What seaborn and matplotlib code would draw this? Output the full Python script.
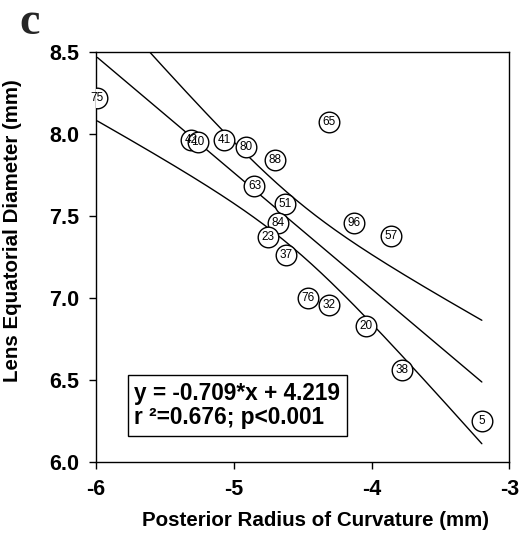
import numpy as np
import pandas as pd
import matplotlib
matplotlib.use("Agg")
import matplotlib.pyplot as plt
import seaborn as sns

# ---- data ----
labels = ["75", "42", "10", "41", "80", "88", "63", "51", "84", "23",
          "37", "65", "96", "57", "76", "32", "20", "38", "5"]
radius = [-5.99, -5.31, -5.26, -5.07, -4.91, -4.70, -4.85, -4.63, -4.68, -4.75,
          -4.62, -4.31, -4.13, -3.86, -4.46, -4.31, -4.04, -3.78, -3.20]
diameter = [8.22, 7.96, 7.95, 7.96, 7.92, 7.84, 7.68, 7.57, 7.46, 7.37,
            7.26, 8.07, 7.46, 7.38, 7.00, 6.96, 6.83, 6.56, 6.25]
slope = -0.709
intercept = 4.219
stats_text = "y = -0.709*x + 4.219\nr \u00b2=0.676; p<0.001"
x_ticks = [-6, -5, -4, -3]
y_ticks = [6.0, 6.5, 7.0, 7.5, 8.0, 8.5]

df = pd.DataFrame({"label": labels, "radius": radius, "diameter": diameter})

sns.set_theme(style="ticks")
plt.rcParams["font.family"] = ["Liberation Sans", "DejaVu Sans"]

fig = plt.figure(figsize=(5.19, 5.35), dpi=100)
ax = fig.add_axes([0.185, 0.1364, 0.7965, 0.7666])

# regression line and 95% confidence band lines
x = np.asarray(radius)
y = np.asarray(diameter)
n = len(x)
resid = y - (slope * x + intercept)
s = np.sqrt(np.sum(resid ** 2) / (n - 2))
xm = x.mean()
sxx = np.sum((x - xm) ** 2)
xs = np.linspace(x.min(), x.max(), 200)
yfit = slope * xs + intercept
half = 2.110 * s * np.sqrt(1.0 / n + (xs - xm) ** 2 / sxx)
for yy in (yfit, yfit + half, yfit - half):
    sns.lineplot(x=xs, y=yy, ax=ax, color="black", linewidth=1.0, zorder=2)

# labelled circle markers
sns.scatterplot(data=df, x="radius", y="diameter", ax=ax, s=220,
                facecolor="white", edgecolor="black", linewidth=1.0, zorder=3)
for lab, xx, yy in zip(labels, radius, diameter):
    ax.text(xx, yy, lab, ha="center", va="center", fontsize=8.5, color="black",
            zorder=4)

ax.set_xlim(-6, -3)
ax.set_ylim(6.0, 8.5)
ax.set_xticks(x_ticks)
ax.set_xticklabels([str(t) for t in x_ticks])
ax.set_yticks(y_ticks)
ax.set_yticklabels([f"{t:.1f}" for t in y_ticks])
ax.tick_params(axis="both", direction="out", length=5, width=1, colors="black",
               labelsize=15.5, pad=7)
for lab in ax.get_xticklabels() + ax.get_yticklabels():
    lab.set_fontweight("bold")
for sp in ax.spines.values():
    sp.set_visible(True)
    sp.set_color("black")
    sp.set_linewidth(1.0)

ax.set_xlabel("Posterior Radius of Curvature (mm)", fontsize=14.8, fontweight="bold",
              color="black")
ax.set_ylabel("Lens Equatorial Diameter (mm)", fontsize=14.8, fontweight="bold",
              color="black")
ax.xaxis.set_label_coords(0.53, -0.12)
ax.yaxis.set_label_coords(-0.178, 0.563)

ax.text(0.093, 0.138, stats_text, transform=ax.transAxes, fontsize=16.3,
        fontweight="bold", ha="left", va="center", linespacing=1.05, color="black",
        bbox=dict(boxstyle="square,pad=0.3", facecolor="white", edgecolor="black",
                  linewidth=1.0))

fig.text(0.038, 0.957, "c", fontsize=33, fontweight="bold",
         family=["Liberation Serif", "DejaVu Serif"], ha="left", va="center")

fig.savefig("out.png", dpi=100, facecolor="white")
